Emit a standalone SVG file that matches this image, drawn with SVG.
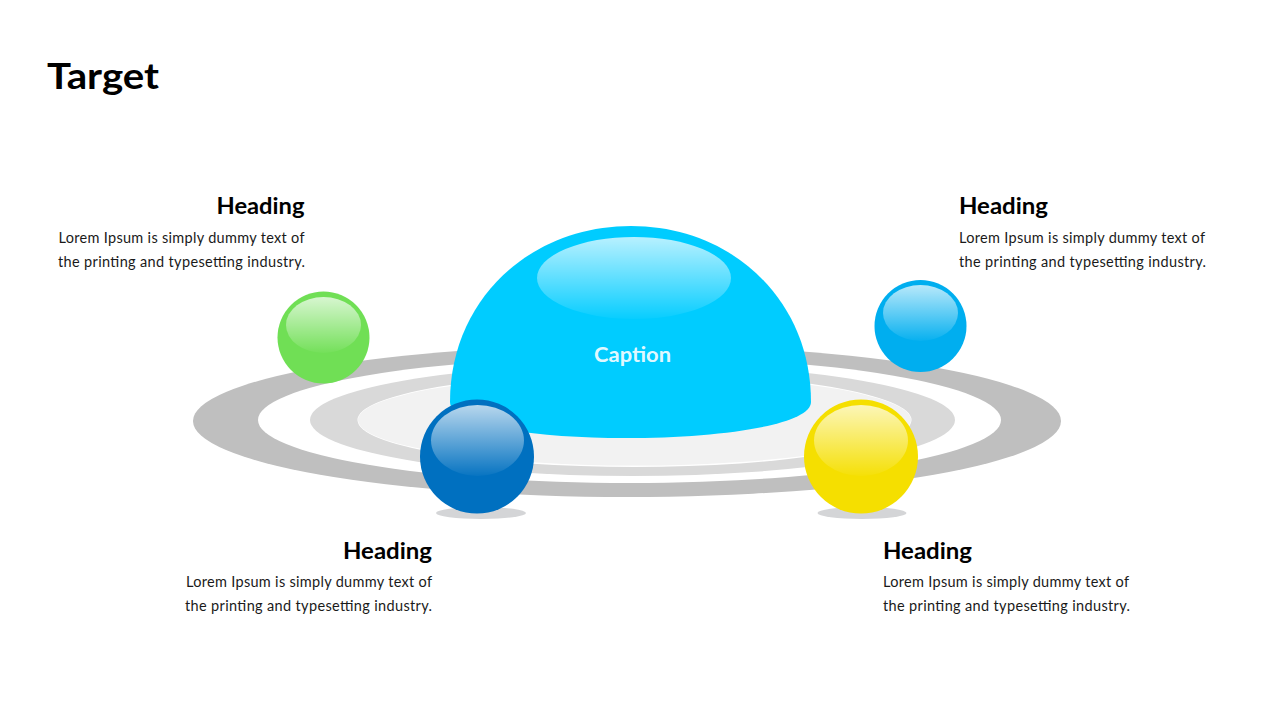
<svg xmlns="http://www.w3.org/2000/svg" width="1280" height="720" viewBox="0 0 1280 720">
<style>
text{font-family:"Lato","Open Sans","Liberation Sans",sans-serif;fill:#000}
.title{font-size:37px;font-weight:700}
.head{font-size:22px;font-weight:700}
.body{font-size:14.5px;fill:#1a1a1a}
.end{text-anchor:end}
.cap{font-size:20px;font-weight:700;fill:#fff;fill-opacity:.9;text-anchor:middle}
.shadow{fill:#d4d5d7}
.hl{fill:url(#gloss)}
</style>
<defs>
<linearGradient id="gloss" x1="0" y1="0" x2="0" y2="1">
<stop offset="0" stop-color="#fff" stop-opacity=".72"/>
<stop offset="1" stop-color="#fff" stop-opacity=".03"/>
</linearGradient>
</defs>
<rect width="1280" height="720" fill="#fff"/>
<text class="title" x="47" y="89" textLength="112" lengthAdjust="spacingAndGlyphs">Target</text>
<g id="rings">
<ellipse cx="627" cy="421" rx="434" ry="76" fill="#bfbfbf"/>
<ellipse cx="629.5" cy="420" rx="371.5" ry="63" fill="#fff"/>
<ellipse cx="632.5" cy="420" rx="322.5" ry="56" fill="#d9d9d9"/>
<ellipse cx="634.500" cy="420" rx="277" ry="47" fill="#fff"/>
<ellipse cx="634.500" cy="420" rx="276.500" ry="45.500" fill="#f2f2f2"/>
</g>
<g id="dome">
<path d="M450 402C450 300 530 226 631 226C732 226 811 300 811 402C811 425 720 438 625 438C530 438 450 425 450 402Z" fill="#00ccff"/>
<ellipse class="hl" cx="634" cy="278" rx="97" ry="41"/>
<text class="cap" x="632.500" y="362" textLength="77" lengthAdjust="spacingAndGlyphs">Caption</text>
</g>
<g id="ball-green">
<circle cx="323.500" cy="337.500" r="46" fill="#70df55"/>
<ellipse class="hl" cx="323.500" cy="325" rx="37.500" ry="28"/>
</g>
<g id="ball-cyan">
<circle cx="920.500" cy="326" r="46" fill="#00aeef"/>
<ellipse class="hl" cx="920.500" cy="313" rx="37.500" ry="28"/>
</g>
<g id="ball-blue">
<ellipse class="shadow" cx="481" cy="513" rx="45" ry="6"/>
<circle cx="477" cy="456.500" r="57" fill="#0070c0"/>
<ellipse class="hl" cx="477.500" cy="440.500" rx="46.500" ry="35.500"/>
</g>
<g id="ball-yellow">
<ellipse class="shadow" cx="862" cy="513" rx="44.500" ry="6"/>
<circle cx="861" cy="456.500" r="57" fill="#f5df00"/>
<ellipse class="hl" cx="861" cy="440.500" rx="47" ry="35.500"/>
</g>
<g id="label-top-left">
<text class="head end" x="304.500" y="214" textLength="88" lengthAdjust="spacingAndGlyphs">Heading</text>
<text class="body end" x="304.500" y="243" textLength="246" lengthAdjust="spacing">Lorem Ipsum is simply dummy text of</text>
<text class="body end" x="305" y="267" textLength="247" lengthAdjust="spacing">the printing and typesetting industry.</text>
</g>
<g id="label-top-right">
<text class="head" x="959" y="214" textLength="89" lengthAdjust="spacingAndGlyphs">Heading</text>
<text class="body" x="959" y="243" textLength="246" lengthAdjust="spacing">Lorem Ipsum is simply dummy text of</text>
<text class="body" x="959" y="267" textLength="247" lengthAdjust="spacing">the printing and typesetting industry.</text>
</g>
<g id="label-bottom-left">
<text class="head end" x="432" y="559" textLength="89" lengthAdjust="spacingAndGlyphs">Heading</text>
<text class="body end" x="432" y="587" textLength="246" lengthAdjust="spacing">Lorem Ipsum is simply dummy text of</text>
<text class="body end" x="432" y="611" textLength="247" lengthAdjust="spacing">the printing and typesetting industry.</text>
</g>
<g id="label-bottom-right">
<text class="head" x="883" y="559" textLength="89" lengthAdjust="spacingAndGlyphs">Heading</text>
<text class="body" x="883" y="587" textLength="246" lengthAdjust="spacing">Lorem Ipsum is simply dummy text of</text>
<text class="body" x="883" y="611" textLength="247" lengthAdjust="spacing">the printing and typesetting industry.</text>
</g>
</svg>
